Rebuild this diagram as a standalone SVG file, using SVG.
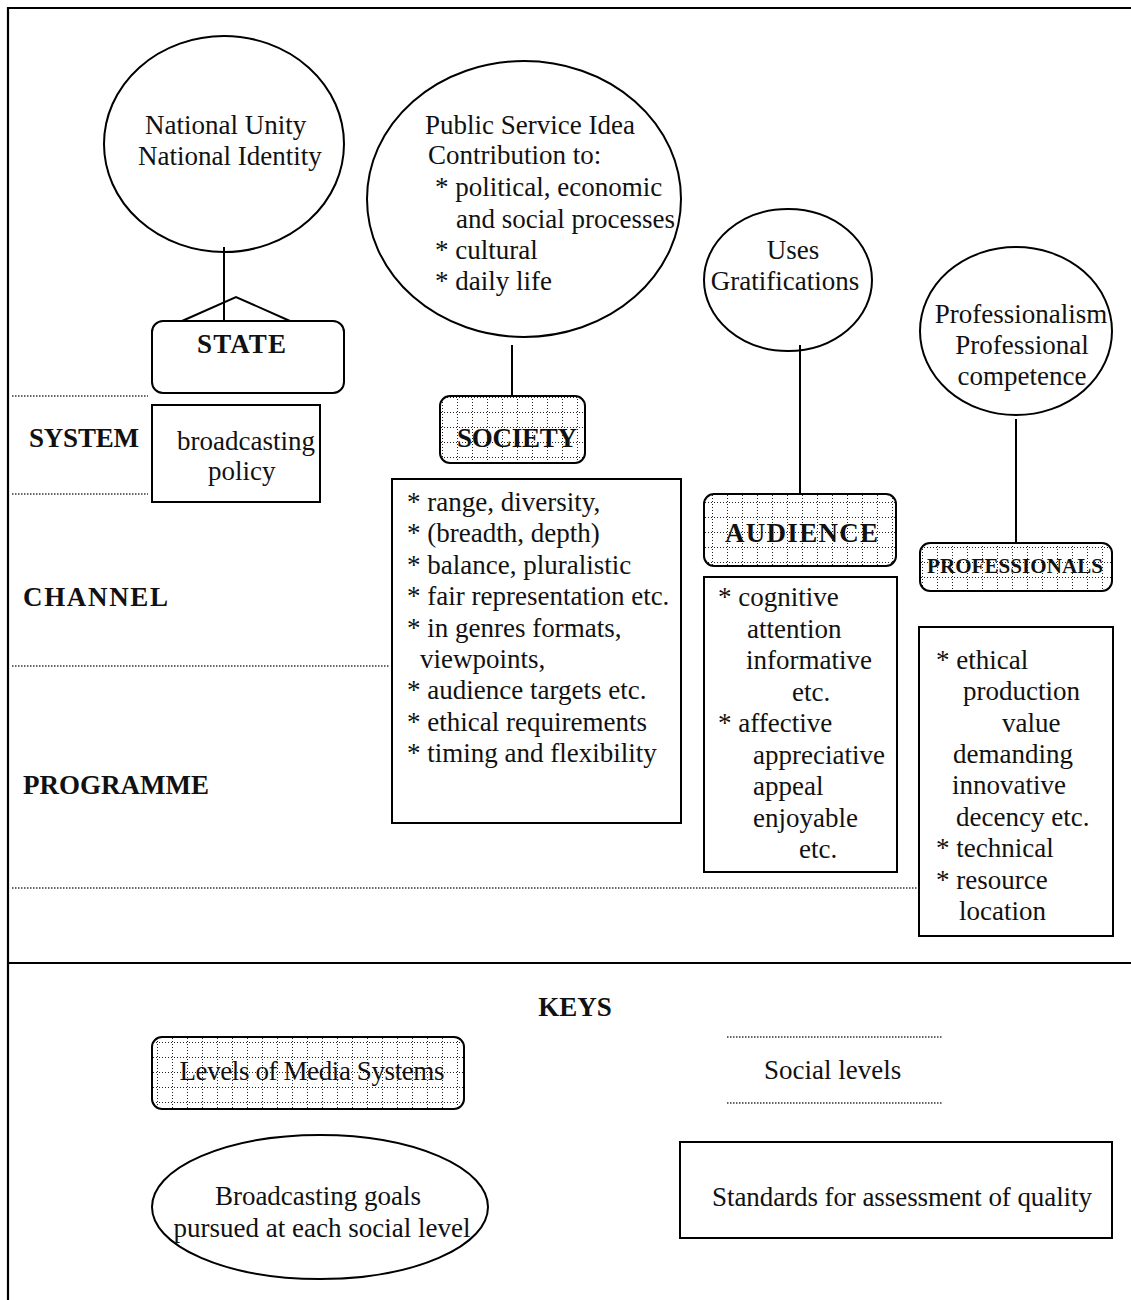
<svg xmlns="http://www.w3.org/2000/svg" width="1131" height="1300" viewBox="0 0 1131 1300">
  <defs>
    <pattern id="grid" width="15" height="15" patternUnits="userSpaceOnUse">
      <path d="M0 7.5H15M7.5 0V15" stroke="#222" stroke-width="1" stroke-dasharray="1 2" fill="none"/>
    </pattern>
    <style>
      text { font-family: "Liberation Serif", "Times New Roman", serif; font-size: 27px; fill: #111; }
      .b { font-weight: bold; }
      .frame { stroke: #000; stroke-width: 2.2; fill: none; }
      .shape { stroke: #000; stroke-width: 2; fill: #fff; }
      .level { stroke: #000; stroke-width: 2; fill: url(#grid); }
      .dots { stroke: #333; stroke-width: 1.3; stroke-dasharray: 1.5 1.5; fill: none; }
      .conn { stroke: #000; stroke-width: 2; fill: none; }
    </style>
  </defs>
  <rect width="1131" height="1300" fill="#fff"/>

  <!-- outer frame and key separator -->
  <path class="frame" d="M8 1300V8H1131"/>
  <path class="frame" d="M8 963H1131"/>

  <!-- social level separators -->
  <g id="levels">
    <path class="dots" d="M12 396H148"/>
    <path class="dots" d="M12 494H148"/>
    <path class="dots" d="M12 666H390"/>
    <path class="dots" d="M12 888H918"/>
    <text class="b" x="29" y="447" textLength="110">SYSTEM</text>
    <text class="b" x="23" y="606" textLength="145">CHANNEL</text>
    <text class="b" x="23" y="794" textLength="186">PROGRAMME</text>
  </g>

  <!-- connectors -->
  <g id="connectors">
    <path class="conn" d="M224 247V321"/>
    <path class="conn" d="M182 321L236 297L290 321"/>
    <path class="conn" d="M512 345V396"/>
    <path class="conn" d="M800 345V494"/>
    <path class="conn" d="M1016 419V543"/>
  </g>

  <!-- state -->
  <g id="goal-national">
    <ellipse class="shape" cx="224" cy="144" rx="120" ry="108" style="fill:none"/>
    <text x="145" y="134">National Unity</text>
    <text x="138" y="165">National Identity</text>
  </g>
  <g id="state">
    <rect class="shape" x="152" y="321" width="192" height="72" rx="11"/>
    <text class="b" x="197" y="353" textLength="89">STATE</text>
  </g>
  <g id="std-state">
    <rect class="shape" x="152" y="405" width="168" height="97"/>
    <text x="177" y="450">broadcasting</text>
    <text x="208" y="480">policy</text>
  </g>

  <!-- society -->
  <g id="goal-public">
    <ellipse class="shape" cx="524" cy="199" rx="157" ry="138"/>
    <text x="425" y="134">Public Service Idea</text>
    <text x="428" y="164">Contribution to:</text>
    <text x="435" y="196">* political, economic</text>
    <text x="456" y="228">and social processes</text>
    <text x="435" y="259">* cultural</text>
    <text x="435" y="290">* daily life</text>
  </g>
  <g id="society">
    <rect x="440" y="396" width="145" height="67" rx="10" fill="#fff"/>
    <rect class="level" x="440" y="396" width="145" height="67" rx="10"/>
    <text class="b" x="457" y="447" textLength="120">SOCIETY</text>
  </g>
  <g id="std-society">
    <rect class="shape" x="392" y="479" width="289" height="344"/>
    <text x="407" y="511">* range, diversity,</text>
    <text x="407" y="542">* (breadth, depth)</text>
    <text x="407" y="574">* balance, pluralistic</text>
    <text x="407" y="605">* fair representation etc.</text>
    <text x="407" y="637">* in genres formats,</text>
    <text x="420" y="668">viewpoints,</text>
    <text x="407" y="699">* audience targets etc.</text>
    <text x="407" y="731">* ethical requirements</text>
    <text x="407" y="762">* timing and flexibility</text>
  </g>

  <!-- audience -->
  <g id="goal-uses">
    <ellipse class="shape" cx="788" cy="280" rx="84" ry="71" style="fill:none"/>
    <text x="793" y="259" text-anchor="middle">Uses</text>
    <text x="785" y="290" text-anchor="middle">Gratifications</text>
  </g>
  <g id="audience">
    <rect x="704" y="494" width="192" height="72" rx="10" fill="#fff"/>
    <rect class="level" x="704" y="494" width="192" height="72" rx="10"/>
    <text class="b" x="725" y="542" textLength="153">AUDIENCE</text>
  </g>
  <g id="std-audience">
    <rect class="shape" x="704" y="577" width="193" height="295"/>
    <text x="718" y="606">* cognitive</text>
    <text x="747" y="638">attention</text>
    <text x="746" y="669">informative</text>
    <text x="792" y="701">etc.</text>
    <text x="718" y="732">* affective</text>
    <text x="753" y="764">appreciative</text>
    <text x="753" y="795">appeal</text>
    <text x="753" y="827">enjoyable</text>
    <text x="799" y="858">etc.</text>
  </g>

  <!-- professionals -->
  <g id="goal-professionalism">
    <ellipse class="shape" cx="1016" cy="331" rx="96" ry="84" style="fill:none"/>
    <text x="1021" y="323" text-anchor="middle">Professionalism</text>
    <text x="1022" y="354" text-anchor="middle">Professional</text>
    <text x="1022" y="385" text-anchor="middle">competence</text>
  </g>
  <g id="professionals">
    <rect x="920" y="543" width="192" height="48" rx="10" fill="#fff"/>
    <rect class="level" x="920" y="543" width="192" height="48" rx="10"/>
    <text class="b" x="927" y="573" style="font-size:21px" textLength="176">PROFESSIONALS</text>
  </g>
  <g id="std-professionals">
    <rect class="shape" x="919" y="627" width="194" height="309"/>
    <text x="936" y="669">* ethical</text>
    <text x="963" y="700">production</text>
    <text x="1002" y="732">value</text>
    <text x="953" y="763">demanding</text>
    <text x="952" y="794">innovative</text>
    <text x="956" y="826">decency etc.</text>
    <text x="936" y="857">* technical</text>
    <text x="936" y="889">* resource</text>
    <text x="959" y="920">location</text>
  </g>

  <!-- keys -->
  <g id="keys">
    <text class="b" x="575" y="1016" text-anchor="middle">KEYS</text>
    <g id="key-level">
      <rect x="152" y="1037" width="312" height="72" rx="10" fill="#fff"/>
      <rect class="level" x="152" y="1037" width="312" height="72" rx="10"/>
      <text x="312" y="1080" text-anchor="middle" textLength="265">Levels of Media Systems</text>
    </g>
    <g id="key-social">
      <path class="dots" d="M727 1037H942"/>
      <path class="dots" d="M727 1103H942"/>
      <text x="764" y="1079">Social levels</text>
    </g>
    <g id="key-goal">
      <ellipse class="shape" cx="320" cy="1207" rx="168" ry="72" style="fill:none"/>
      <text x="318" y="1205" text-anchor="middle">Broadcasting goals</text>
      <text x="322" y="1237" text-anchor="middle">pursued at each social level</text>
    </g>
    <g id="key-standard">
      <rect class="shape" x="680" y="1142" width="432" height="96"/>
      <text x="712" y="1206" textLength="380">Standards for assessment of quality</text>
    </g>
  </g>
</svg>
